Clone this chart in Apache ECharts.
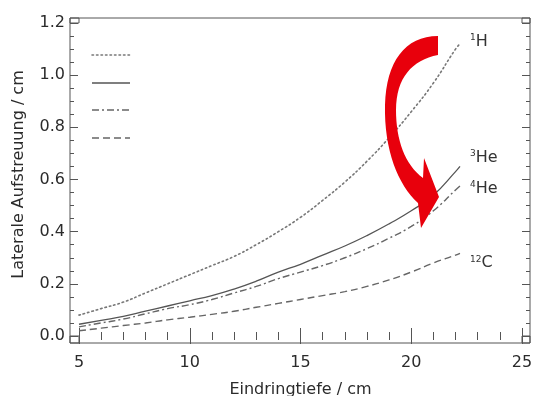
<!DOCTYPE html>
<html>
<head>
<meta charset="utf-8">
<script src="https://cdn.jsdelivr.net/npm/echarts@6/dist/echarts.min.js"></script>
<style>
  html, body { margin: 0; padding: 0; background: #fff; }
</style>
</head>
<body>
<div id="container" style="width: 537px; height: 396px;"></div>
<script>
// Eindringtiefe (cm)
var depth = [5, 6, 7, 8, 9, 10, 11, 12, 13, 14, 15, 16, 17, 18, 19, 20, 21, 22, 22.2];
// laterale Aufstreuung (cm)
var h1  = [0.08, 0.105, 0.13, 0.165, 0.20, 0.235, 0.27, 0.305, 0.35, 0.40, 0.455, 0.52, 0.59, 0.67, 0.76, 0.86, 0.97, 1.10, 1.12];
var he3 = [0.045, 0.06, 0.075, 0.095, 0.115, 0.135, 0.155, 0.18, 0.21, 0.245, 0.275, 0.31, 0.345, 0.385, 0.43, 0.48, 0.54, 0.63, 0.65];
var he4 = [0.035, 0.05, 0.065, 0.085, 0.105, 0.12, 0.14, 0.165, 0.19, 0.22, 0.245, 0.27, 0.30, 0.335, 0.375, 0.42, 0.48, 0.56, 0.575];
var c12 = [0.02, 0.03, 0.04, 0.05, 0.062, 0.072, 0.083, 0.095, 0.11, 0.125, 0.14, 0.155, 0.17, 0.19, 0.215, 0.245, 0.28, 0.31, 0.317];
var xTicks = [5, 10, 15, 20, 25];
var yTicks = [0, 0.2, 0.4, 0.6, 0.8, 1.0, 1.2];

var font = 'DejaVu Sans';
var axisColor = '#555';

function pairs(ys) {
  return depth.map(function (d, i) { return [d, ys[i]]; });
}

function frameAxis(extra) {
  var base = {
    type: 'value',
    axisLine: { show: false },
    axisTick: { show: true, inside: true, length: 8, lineStyle: { color: axisColor } },
    minorTick: { show: true, length: 4, lineStyle: { color: axisColor } },
    splitLine: { show: false },
    axisLabel: { show: false }
  };
  return Object.assign(base, extra);
}

var labelStyle = {
  fontFamily: font, fontSize: 16, color: '#2b2b2b'
};

function endLab(sup, main, dy) {
  return {
    show: true,
    distance: 10,
    offset: [0, dy],
    formatter: '{s|' + sup + '}{m|' + main + '}',
    rich: {
      s: { fontFamily: font, fontSize: 9, color: '#333', verticalAlign: 'top', padding: [0, 0, 8, 0] },
      m: { fontFamily: font, fontSize: 16, color: '#333' }
    }
  };
}

// kubische Bezier-Kurve als Punktliste (nur fuer den Pfeil)
function bez(p0, p1, p2, p3) {
  var out = [];
  for (var i = 0; i <= 16; i++) {
    var t = i / 16, u = 1 - t;
    out.push([
      u*u*u*p0[0] + 3*u*u*t*p1[0] + 3*u*t*t*p2[0] + t*t*t*p3[0],
      u*u*u*p0[1] + 3*u*u*t*p1[1] + 3*u*t*t*p2[1] + t*t*t*p3[1]
    ]);
  }
  return out;
}

var arrowPts = [].concat(
  bez([438, 36], [405, 36], [386, 62], [385, 105]),
  bez([385, 105], [384, 150], [398, 185], [418, 203]),
  [[421, 228], [439, 197], [424, 158], [423, 178]],
  bez([423, 178], [405, 165], [396, 140], [396, 110]),
  bez([396, 110], [396, 78], [412, 60], [438, 55])
);

var chart = echarts.init(document.getElementById('container'));

var option = {
  animation: false,
  backgroundColor: '#fff',
  grid: { left: 79, right: 15, top: 23, bottom: 60, outerBoundsMode: 'none' },
  xAxis: [
    frameAxis({
      position: 'bottom', offset: 7, min: xTicks[0], max: xTicks[xTicks.length - 1], interval: 5,
      minorTick: { show: true, splitNumber: 5, length: 4, lineStyle: { color: axisColor } },
      axisLabel: Object.assign({ show: true, margin: 12 }, labelStyle),
      name: 'Eindringtiefe / cm', nameLocation: 'middle', nameGap: 39,
      nameTextStyle: labelStyle
    }),
    frameAxis({
      position: 'top', offset: 5, min: 5, max: 25, interval: 5,
      minorTick: { show: true, splitNumber: 5, length: 4, lineStyle: { color: axisColor } }
    })
  ],
  yAxis: [
    frameAxis({
      position: 'left', offset: 9, min: yTicks[0], max: yTicks[yTicks.length - 1], interval: 0.2,
      minorTick: { show: true, splitNumber: 4, length: 4, lineStyle: { color: axisColor } },
      axisLabel: Object.assign({ show: true, margin: 5, formatter: function (v) { return v.toFixed(1); } }, labelStyle),
      name: 'Laterale Aufstreuung / cm', nameLocation: 'middle', nameRotate: 90, nameGap: 43,
      nameTextStyle: Object.assign({ padding: [0, 0, 0, 10] }, labelStyle)
    }),
    frameAxis({
      position: 'right', offset: 8, min: 0, max: 1.2, interval: 0.2,
      minorTick: { show: true, splitNumber: 4, length: 4, lineStyle: { color: axisColor } }
    })
  ],
  series: [
    {
      name: '1H', type: 'line', data: pairs(h1), symbol: 'none', smooth: true,
      lineStyle: { color: '#777', width: 1.6, type: [1.5, 3], cap: 'round' },
      endLabel: endLab('1', 'H', -2)
    },
    {
      name: '3He', type: 'line', data: pairs(he3), symbol: 'none', smooth: true,
      lineStyle: { color: '#555', width: 1.3, type: 'solid' },
      endLabel: endLab('3', 'He', -9)
    },
    {
      name: '4He', type: 'line', data: pairs(he4), symbol: 'none', smooth: true,
      lineStyle: { color: '#666', width: 1.4, type: [7, 3, 2, 3] },
      endLabel: endLab('4', 'He', 3)
    },
    {
      name: '12C', type: 'line', data: pairs(c12), symbol: 'none', smooth: true,
      lineStyle: { color: '#666', width: 1.4, type: [7, 4] },
      endLabel: endLab('12', 'C', 10)
    }
  ],
  graphic: [
    // Rahmen
    { type: 'rect', shape: { x: 70, y: 18, width: 460, height: 325 }, style: { fill: null, stroke: axisColor, lineWidth: 1 }, silent: true },
    { type: 'rect', shape: { x: 70, y: 18, width: 9, height: 5 }, style: { fill: null, stroke: axisColor, lineWidth: 1 }, silent: true },
    { type: 'rect', shape: { x: 522, y: 18, width: 8, height: 5 }, style: { fill: null, stroke: axisColor, lineWidth: 1 }, silent: true },
    { type: 'rect', shape: { x: 70, y: 336, width: 9, height: 7 }, style: { fill: null, stroke: axisColor, lineWidth: 1 }, silent: true },
    { type: 'rect', shape: { x: 522, y: 336, width: 8, height: 7 }, style: { fill: null, stroke: axisColor, lineWidth: 1 }, silent: true },
    // Legende (nur Linienmuster)
    { type: 'line', shape: { x1: 92, y1: 55, x2: 130, y2: 55 }, style: { stroke: '#777', lineWidth: 1.6, lineDash: [1.5, 3], lineCap: 'round' }, silent: true },
    { type: 'line', shape: { x1: 92, y1: 83, x2: 130, y2: 83 }, style: { stroke: '#555', lineWidth: 1.3 }, silent: true },
    { type: 'line', shape: { x1: 92, y1: 110, x2: 130, y2: 110 }, style: { stroke: '#666', lineWidth: 1.4, lineDash: [7, 3, 2, 3] }, silent: true },
    { type: 'line', shape: { x1: 92, y1: 138, x2: 130, y2: 138 }, style: { stroke: '#666', lineWidth: 1.4, lineDash: [7, 4] }, silent: true },
    // roter Pfeil
    {
      type: 'polygon', z: 100, silent: true,
      shape: { points: arrowPts },
      style: { fill: '#e8000c', stroke: null }
    }
  ]
};

chart.setOption(option);
</script>
</body>
</html>
